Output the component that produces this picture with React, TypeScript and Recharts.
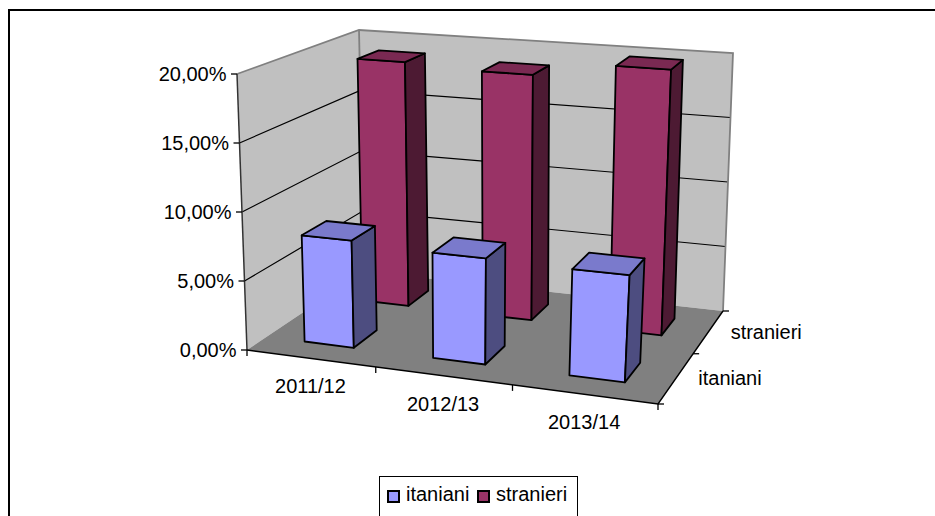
import React from "react";
import { ComposedChart, Bar, XAxis, YAxis, Legend, Customized } from "recharts";

const categories = ["2011/12", "2012/13", "2013/14"];
const italiani = [7.8, 7.55, 7.45];
const stranieri = [19.0, 18.7, 19.8];
const seriesNames = ["itaniani", "stranieri"];
const yTicks = [0, 5, 10, 15, 20];

const rows = categories.map((c, i) => ({ cat: c, itaniani: italiani[i], stranieri: stranieri[i] }));

type P = [number, number];
const makeH = (p0: P, p1: P, p2: P, p3: P) => {
  const dx1 = p1[0] - p2[0], dx2 = p3[0] - p2[0], dx3 = p0[0] - p1[0] + p2[0] - p3[0];
  const dy1 = p1[1] - p2[1], dy2 = p3[1] - p2[1], dy3 = p0[1] - p1[1] + p2[1] - p3[1];
  const den = dx1 * dy2 - dx2 * dy1;
  const g = (dx3 * dy2 - dx2 * dy3) / den, h = (dx1 * dy3 - dx3 * dy1) / den;
  const a = p1[0] - p0[0] + g * p1[0], b = p3[0] - p0[0] + h * p3[0], c = p0[0];
  const d = p1[1] - p0[1] + g * p1[1], e = p3[1] - p0[1] + h * p3[1], f = p0[1];
  return (u: number, v: number): P => {
    const w = g * u + h * v + 1;
    return [(a * u + b * v + c) / w, (d * u + e * v + f) / w];
  };
};

const floorH = makeH([247, 350], [658, 404], [723, 311], [364, 271.5]);
const topH = makeH([237, 74], [676, 108], [733, 53], [359, 30]);
const proj = (u: number, v: number, t: number): P => {
  const a = floorH(u, v), b = topH(u, v);
  return [a[0] + (b[0] - a[0]) * t, a[1] + (b[1] - a[1]) * t];
};
const pts = (l: P[]) => l.map((p) => p[0].toFixed(1) + "," + p[1].toFixed(1)).join(" ");

const PLOT_TOP = 74, PLOT_H = 276;
const FONT = "'Liberation Sans', Arial, sans-serif";
const FS = 20;
const HALF_U = 0.065, HALF_D = 0.1;

const Walls = () => {
  const gray = "#808080";
  return (
    <g>
      <polygon points={pts([proj(0, 0, 0), proj(0, 1, 0), proj(0, 1, 1), proj(0, 0, 1)])} fill="#C0C0C0" />
      <polygon points={pts([proj(0, 1, 0), proj(1, 1, 0), proj(1, 1, 1), proj(0, 1, 1)])} fill="#C0C0C0" />
      <polygon points={pts([proj(0, 0, 0), proj(1, 0, 0), proj(1, 1, 0), proj(0, 1, 0)])} fill="#808080" />
      {yTicks.slice(1, -1).map((t) => (
        <polyline key={t} points={pts([proj(0, 0, t / 20), proj(0, 1, t / 20), proj(1, 1, t / 20)])} fill="none" stroke="#000" strokeWidth={1.2} />
      ))}
      <polyline points={pts([proj(0, 0, 1), proj(0, 1, 1), proj(1, 1, 1), proj(1, 1, 0)])} fill="none" stroke={gray} strokeWidth={1.8} />
      <line x1={proj(0, 1, 0)[0]} y1={proj(0, 1, 0)[1]} x2={proj(0, 1, 1)[0]} y2={proj(0, 1, 1)[1]} stroke={gray} strokeWidth={1.8} />
      <line x1={proj(0, 0, 0)[0]} y1={proj(0, 0, 0)[1]} x2={proj(0, 0, 1)[0]} y2={proj(0, 0, 1)[1]} stroke="#333" strokeWidth={1.5} />
      <polyline points={pts([proj(0, 0, 0), proj(1, 0, 0), proj(1, 1, 0)])} fill="none" stroke="#000" strokeWidth={1.4} />
      {[0, 1, 2, 3].map((i) => {
        const p = proj(i / 3, 0, 0);
        return <line key={i} x1={p[0]} y1={p[1]} x2={p[0]} y2={p[1] + 6} stroke="#000" strokeWidth={1.3} />;
      })}
      {[0, 1, 2].map((i) => {
        const p = proj(1, i / 2, 0);
        return <line key={i} x1={p[0]} y1={p[1]} x2={p[0] + 6} y2={p[1]} stroke="#000" strokeWidth={1.3} />;
      })}
      {seriesNames.map((n, i) => {
        const p = proj(1, (i + 0.5) / 2, 0);
        return (
          <text key={n} x={p[0] + 22} y={p[1] + 7} fontFamily={FONT} fontSize={FS} fill="#000">
            {n}
          </text>
        );
      })}
    </g>
  );
};

const Cuboid = (colors: string[], depthIdx: number) => (props: any) => {
  const { index, height } = props;
  const t = height / PLOT_H;
  const uc = (index + 0.5) / 3;
  const dc = (depthIdx + 0.5) / 2;
  const u0 = uc - HALF_U, u1 = uc + HALF_U, d0 = dc - HALF_D, d1 = dc + HALF_D;
  const common = { stroke: "#000", strokeWidth: 1.8, strokeLinejoin: "round" as const };
  return (
    <g>
      <polygon points={pts([proj(u0, d0, 0), proj(u1, d0, 0), proj(u1, d0, t), proj(u0, d0, t)])} fill={colors[0]} {...common} />
      <polygon points={pts([proj(u1, d0, 0), proj(u1, d1, 0), proj(u1, d1, t), proj(u1, d0, t)])} fill={colors[1]} {...common} />
      <polygon points={pts([proj(u0, d0, t), proj(u1, d0, t), proj(u1, d1, t), proj(u0, d1, t)])} fill={colors[2]} {...common} />
    </g>
  );
};

const YTick = (props: any) => {
  const t = props.payload.value / 20;
  const p = proj(0, 0, t);
  return (
    <g>
      <line x1={p[0] - 6} y1={p[1]} x2={p[0]} y2={p[1]} stroke="#000" strokeWidth={1.3} />
      <text x={p[0] - 10.5} y={p[1] + 7} textAnchor="end" fontFamily={FONT} fontSize={FS} fill="#000">
        {(t * 20).toFixed(2).replace(".", ",") + "%"}
      </text>
    </g>
  );
};

const XTick = (props: any) => {
  const p = proj((props.index + 0.5) / 3, 0, 0);
  return (
    <text x={p[0]} y={p[1] + 35} textAnchor="middle" fontFamily={FONT} fontSize={FS} fill="#000">
      {props.payload.value}
    </text>
  );
};

const LegendBox = (props: any) => {
  const items = seriesNames.map((n) => (props.payload || []).find((it: any) => it.value === n)).filter(Boolean);
  return (
    <div style={{ position: "relative", width: 199, height: 60, border: "1.5px solid #000", background: "#fff", boxSizing: "border-box", fontFamily: FONT, fontSize: FS, color: "#000" }}>
      {items.map((it: any, i: number) => (
        <React.Fragment key={it.value}>
          <div style={{ position: "absolute", left: i === 0 ? 7 : 97, top: 13, width: 9, height: 9, background: it.color, border: "2px solid #000", boxSizing: "content-box" }} />
          <div style={{ position: "absolute", left: i === 0 ? 26 : 116, top: 6, lineHeight: "22px" }}>{it.value}</div>
        </React.Fragment>
      ))}
    </div>
  );
};

export default function App() {
  return (
    <div style={{ position: "absolute", left: 0, top: 0, width: 935, height: 516, overflow: "hidden", background: "#fff" }}>
      <div style={{ position: "absolute", left: 8, top: 9, width: 1000, height: 600, border: "2px solid #000", boxSizing: "border-box" }} />
      <ComposedChart
        width={935}
        height={516}
        data={rows}
        margin={{ top: PLOT_TOP, bottom: 136, left: 0, right: 275 }}
        style={{ position: "absolute", left: 0, top: 0 }}
      >
        <Customized component={Walls} />
        <XAxis dataKey="cat" axisLine={false} tickLine={false} height={30} interval={0} tick={XTick} />
        <YAxis width={237} domain={[0, 20]} ticks={yTicks} axisLine={false} tickLine={false} tick={YTick} />
        <Legend
          verticalAlign="middle"
          content={LegendBox}
          wrapperStyle={{ position: "absolute", left: 379, top: 476, width: 199, height: 60 }}
        />
        <Bar dataKey="stranieri" fill="#993366" isAnimationActive={false} shape={Cuboid(["#993366", "#4D1A33", "#7A2952"], 1)} />
        <Bar dataKey="itaniani" fill="#9999FF" isAnimationActive={false} shape={Cuboid(["#9999FF", "#4D4D80", "#7A7ACC"], 0)} />
      </ComposedChart>
    </div>
  );
}
